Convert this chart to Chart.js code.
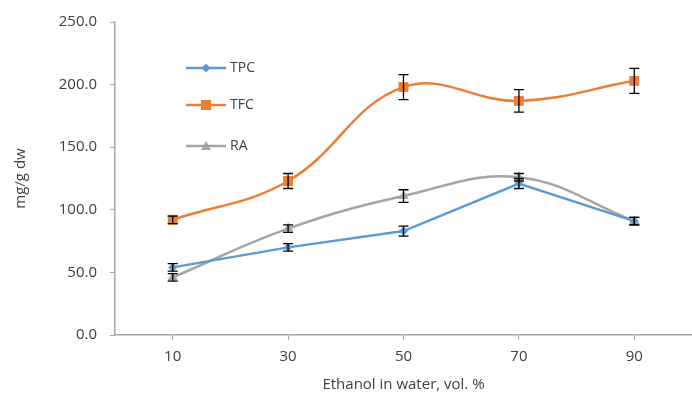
<!DOCTYPE html>
<html>
<head>
<meta charset="utf-8">
<script src="https://cdn.jsdelivr.net/npm/chart.js@4"></script>
<style>
    html, body { margin: 0; padding: 0; background: #fff; }
    #wrap { position: relative; width: 692px; height: 399px; }
</style>
</head>
<body>
<div id="wrap"><canvas id="chart"></canvas></div>
<script>
// ── Data ────────────────────────────────────────────────────────

const categories = ['10', '30', '50', '70', '90'];

const tpc = [54, 70, 83, 121, 91];
const tfc = [92, 123, 198, 187, 203];
const ra = [46, 85, 111, 126, 91];

const tpcErr = [3, 3, 4, 4, 3];
const tfcErr = [3, 6, 10, 9, 10];
const raErr = [3, 3, 5, 3, 3];

const yTicks = [0, 50, 100, 150, 200, 250];

const FONT = "'Open Sans', sans-serif";
const TEXT = '#404040';

// ── Plugins ─────────────────────────────────────────────────────

// black capped error bars, using the chart's own scales
const errorBars = {
    id: 'errorBars',
    afterDatasetsDraw(chart) {
        const { ctx, scales: { x, y } } = chart;
        ctx.save();
        ctx.strokeStyle = '#000';
        ctx.lineWidth = 1.3;
        chart.data.datasets.forEach(ds => {
            ds.data.forEach((v, i) => {
                const e = ds.errors[i];
                const px = x.getPixelForValue(i);
                const top = y.getPixelForValue(v + e);
                const bot = y.getPixelForValue(v - e);
                ctx.beginPath();
                ctx.moveTo(px, top); ctx.lineTo(px, bot);
                ctx.moveTo(px - 5, top); ctx.lineTo(px + 5, top);
                ctx.moveTo(px - 5, bot); ctx.lineTo(px + 5, bot);
                ctx.stroke();
            });
        });
        ctx.restore();
    }
};

// legend inside the plot, like Excel's
const insideLegend = {
    id: 'insideLegend',
    afterDraw(chart) {
        const { ctx } = chart;
        const rows = [68, 105, 146];
        ctx.save();
        chart.data.datasets.forEach((ds, i) => {
            const yy = rows[i];
            ctx.strokeStyle = ds.borderColor;
            ctx.lineWidth = 2.5;
            ctx.beginPath();
            ctx.moveTo(186, yy); ctx.lineTo(226, yy);
            ctx.stroke();
            ctx.fillStyle = ds.backgroundColor;
            const cx = 206;
            ctx.beginPath();
            if (ds.pointStyle === 'rectRot') {
                ctx.moveTo(cx, yy - 4.5); ctx.lineTo(cx + 4.5, yy);
                ctx.lineTo(cx, yy + 4.5); ctx.lineTo(cx - 4.5, yy);
            } else if (ds.pointStyle === 'rect') {
                ctx.rect(cx - 5, yy - 5, 10, 10);
            } else {
                ctx.moveTo(cx, yy - 5); ctx.lineTo(cx + 5, yy + 4);
                ctx.lineTo(cx - 5, yy + 4);
            }
            ctx.closePath();
            ctx.fill();
            ctx.fillStyle = TEXT;
            ctx.font = `14px ${FONT}`;
            ctx.textBaseline = 'middle';
            ctx.fillText(ds.label, 230, yy);
        });
        ctx.restore();
    }
};

// ── Chart ───────────────────────────────────────────────────────

new Chart(document.getElementById('chart'), {
    type: 'line',
    data: {
        labels: categories,
        datasets: [
            {
                label: 'TPC',
                data: tpc,
                errors: tpcErr,
                borderColor: '#5b9bd5',
                backgroundColor: '#5b9bd5',
                borderWidth: 2.5,
                tension: 0,
                pointStyle: 'rectRot',
                pointRadius: 4.5,
                pointBorderWidth: 0,
            },
            {
                label: 'TFC',
                data: tfc,
                errors: tfcErr,
                borderColor: '#ed7d31',
                backgroundColor: '#ed7d31',
                borderWidth: 2.5,
                tension: 0.4,
                pointStyle: 'rect',
                pointRadius: 7,
                pointBorderWidth: 0,
            },
            {
                label: 'RA',
                data: ra,
                errors: raErr,
                borderColor: '#a5a5a5',
                backgroundColor: '#a5a5a5',
                borderWidth: 2.5,
                tension: 0.4,
                pointStyle: 'triangle',
                pointRadius: 6,
                pointBorderWidth: 0,
            },
        ],
    },
    options: {
        responsive: true,
        maintainAspectRatio: false,
        animation: false,
        layout: { autoPadding: false, padding: { top: 20, right: 0, left: 8, bottom: 1 } },
        plugins: {
            legend: { display: false },
            tooltip: { enabled: false },
        },
        scales: {
            x: {
                offset: true,
                grid: {
                    offset: false,
                    drawOnChartArea: false,
                    tickLength: 5,
                    color: '#a6a6a6',
                },
                border: { color: '#a6a6a6', width: 1.5 },
                ticks: { color: TEXT, font: { family: FONT, size: 15 }, padding: 8 },
                title: {
                    display: true,
                    text: 'Ethanol in water, vol. %',
                    color: TEXT,
                    font: { family: FONT, size: 15 },
                    padding: { top: 2 },
                },
            },
            y: {
                min: 0,
                max: 250,
                afterBuildTicks: (axis) => { axis.ticks = yTicks.map(v => ({ value: v })); },
                afterFit: (axis) => { axis.width = 107; },
                grid: {
                    drawOnChartArea: false,
                    tickLength: 5,
                    color: '#a6a6a6',
                },
                border: { color: '#a6a6a6', width: 1.5 },
                ticks: {
                    color: TEXT,
                    font: { family: FONT, size: 15 },
                    padding: 13,
                    callback: (v) => Number(v).toFixed(1),
                },
                title: {
                    display: true,
                    text: 'mg/g dw',
                    color: TEXT,
                    font: { family: FONT, size: 15 },
                    padding: { bottom: 14 },
                },
            },
        },
    },
    plugins: [errorBars, insideLegend],
});
</script>
</body>
</html>
